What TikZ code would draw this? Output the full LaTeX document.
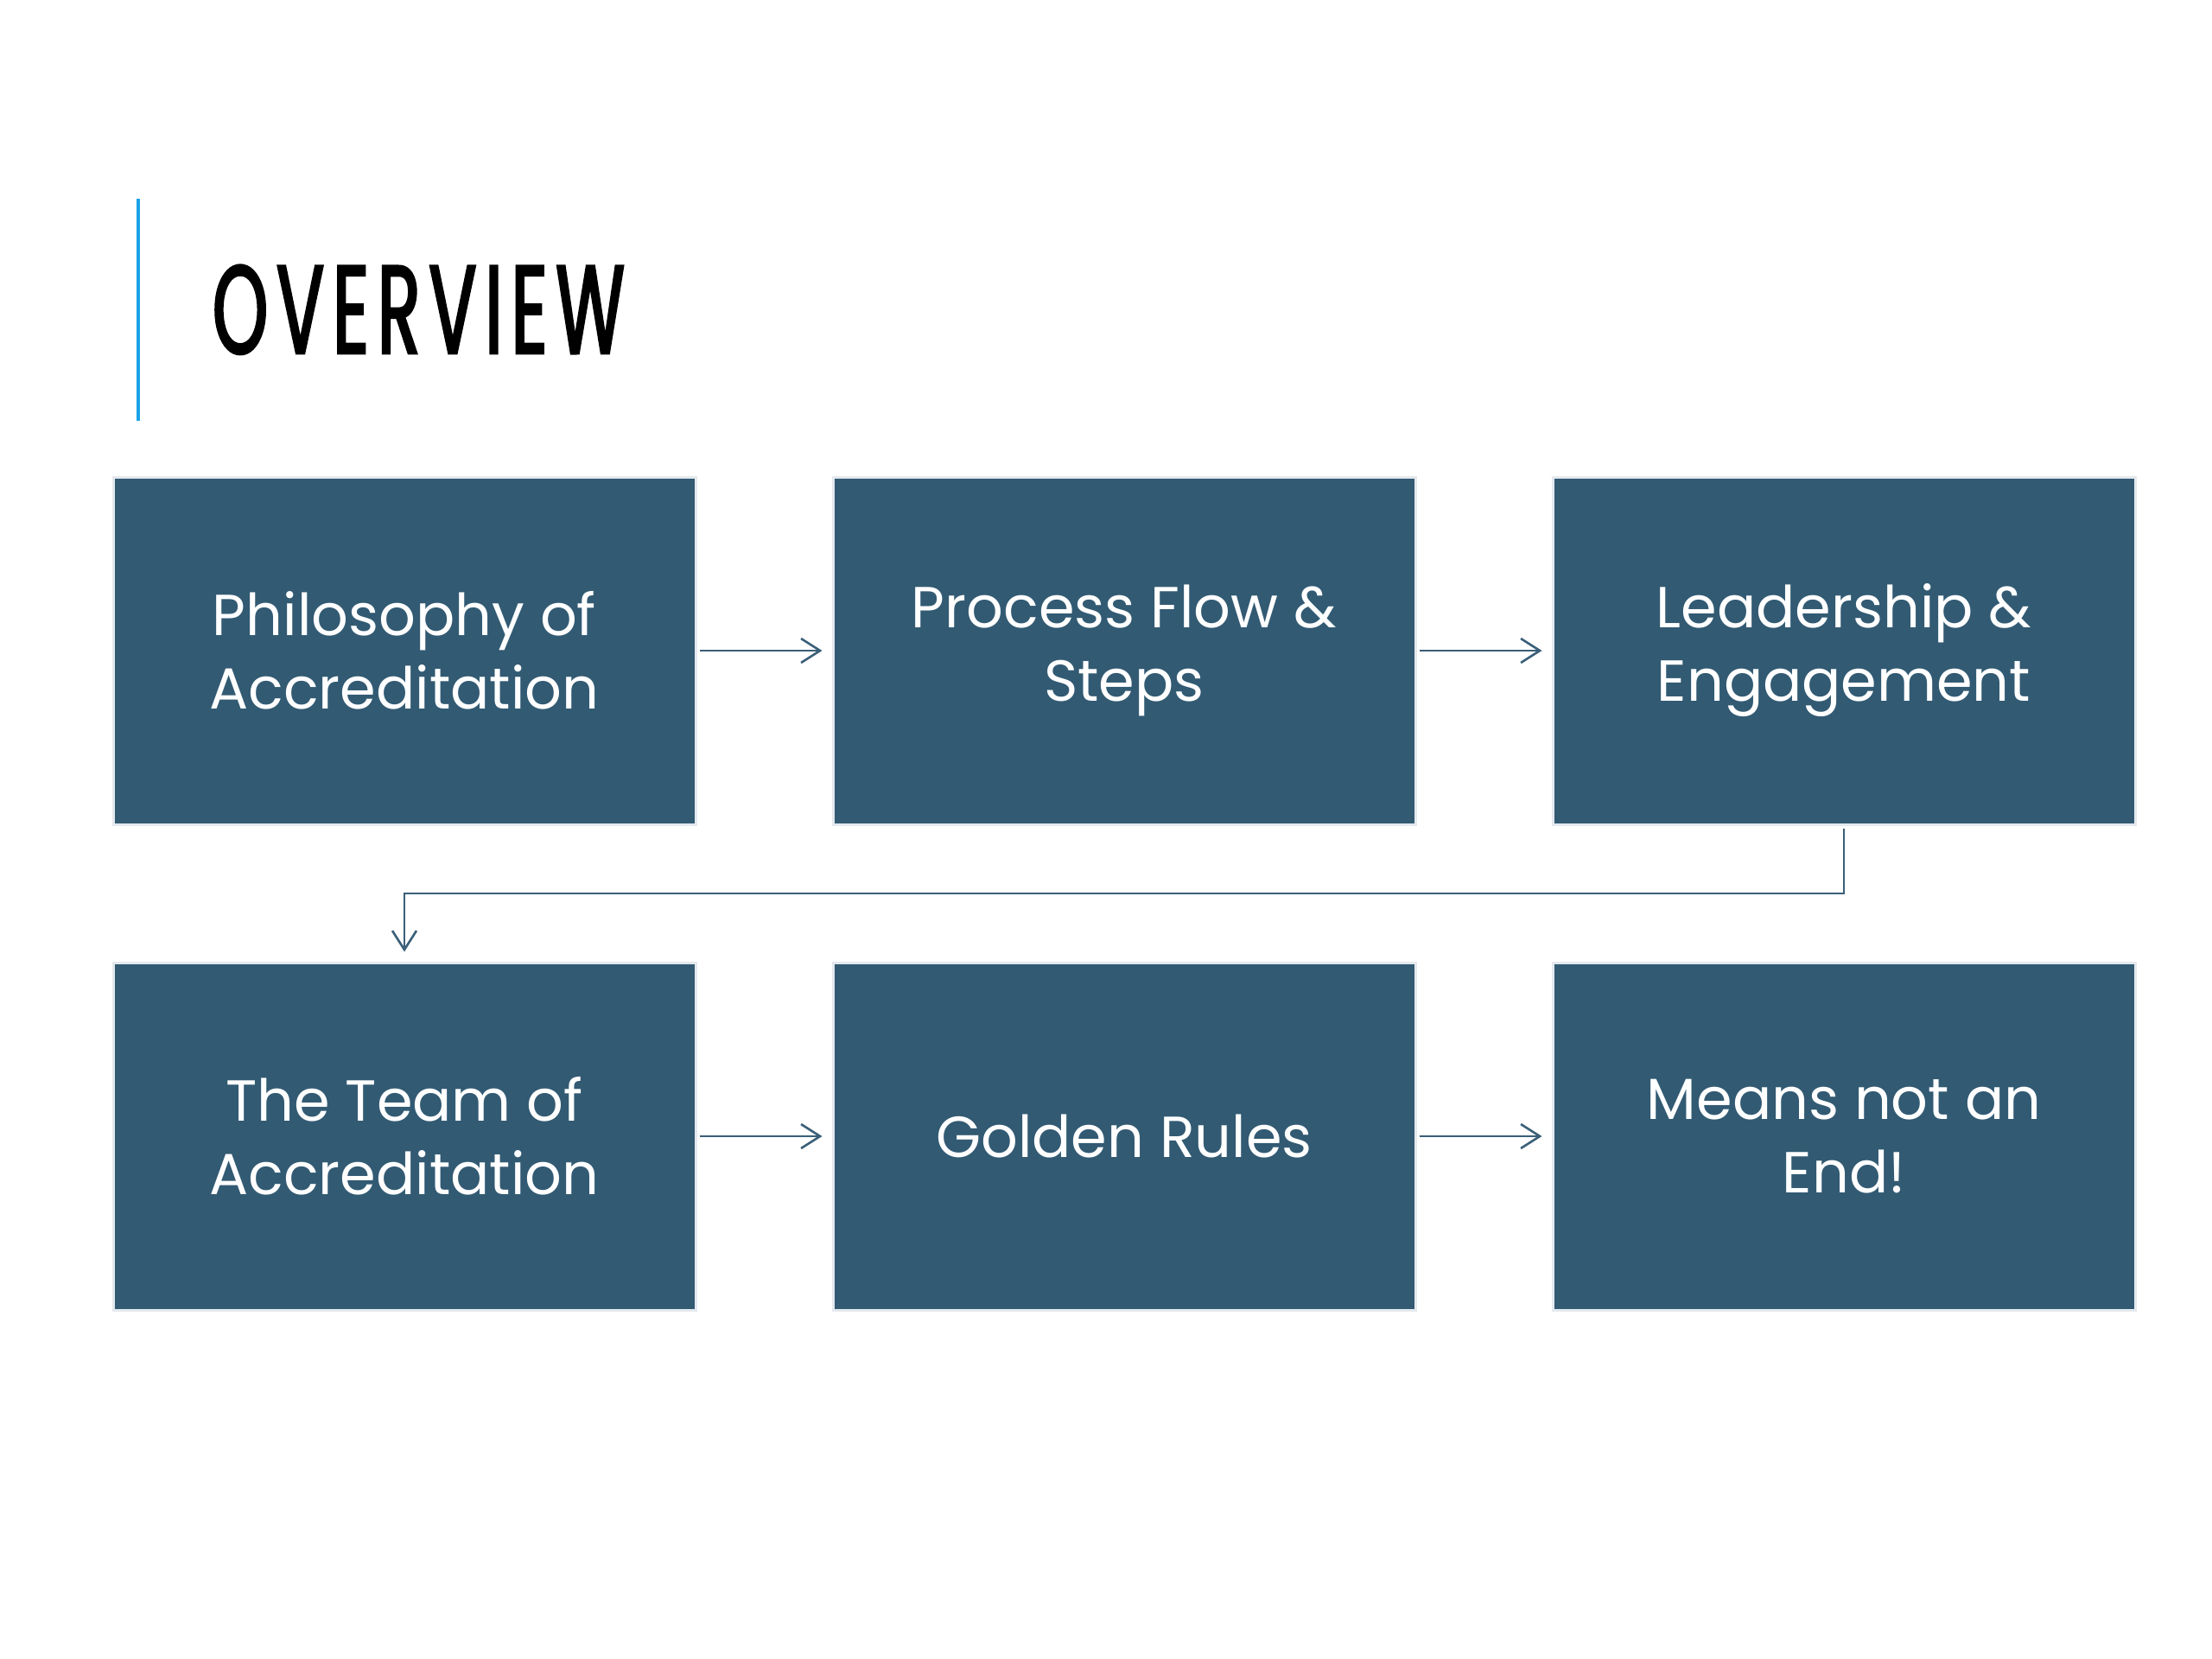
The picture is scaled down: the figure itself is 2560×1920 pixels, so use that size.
\documentclass[tikz,border=0pt]{standalone}
\usepackage{fontspec}
\setmainfont{Poppins}
\newfontfamily\titlefont[FakeStretch=0.56, FakeBold=2, LetterSpace=7]{Poppins}
\newfontfamily\boxfont{Poppins}
\usetikzlibrary{arrows.meta}
\definecolor{boxblue}{HTML}{325A73}
\definecolor{boxedge}{HTML}{E4E9EE}
\definecolor{connblue}{HTML}{3A5F78}
\definecolor{accent}{HTML}{1AA3E8}
\begin{document}
\begin{tikzpicture}[x=1pt,y=-1pt,
  boxnode/.style={fill=boxblue, draw=boxedge, line width=3pt,
    minimum width=674pt, minimum height=402pt, inner sep=0pt,
    text=white, align=center,
    font=\boxfont\fontsize{67}{85}\selectfont},
  conn/.style={draw=connblue, line width=2.6pt,
    -{Straight Barb[length=22pt,width=28pt,line width=2.6pt]}},
  titlestyle/.style={anchor=base west, inner sep=0pt, text=black,
    font=\titlefont\fontsize{145}{150}\selectfont}]
\useasboundingbox[fill=white] (0,0) rectangle (2560,1920);

% accent bar and title
\coordinate (bartop) at (160,230);
\coordinate (barbot) at (160,487);
\draw[accent, line width=4.5pt] (bartop) -- (barbot);
\node[titlestyle] (title) at (246,409) {OVERVIEW};

% boxes
\node[boxnode] (b1) at (468,753) {Philosophy of\\Accreditation};
\node[boxnode] (b2) at (1301,753) {Process Flow \&\\Steps};
\node[boxnode] (b3) at (2134,753) {Leadership \&\\Engagement};
\node[boxnode] (b4) at (468,1315) {The Team of\\Accreditation};
\node[boxnode] (b5) at (1301,1315) {Golden Rules};
\node[boxnode] (b6) at (2134,1315) {Means not an\\End!};

% connectors
\draw[conn, shorten <=3pt, shorten >=11pt] (b1) -- (b2);
\draw[conn, shorten <=3pt, shorten >=11pt] (b2) -- (b3);
\draw[conn, shorten <=3pt, shorten >=11pt] (b4) -- (b5);
\draw[conn, shorten <=3pt, shorten >=11pt] (b5) -- (b6);
\coordinate (elbow) at (0,1034);
\draw[conn, shorten <=3pt, shorten >=11pt] (b3.south) -- (b3.south |- elbow) -| (b4.north);
\end{tikzpicture}
\end{document}
